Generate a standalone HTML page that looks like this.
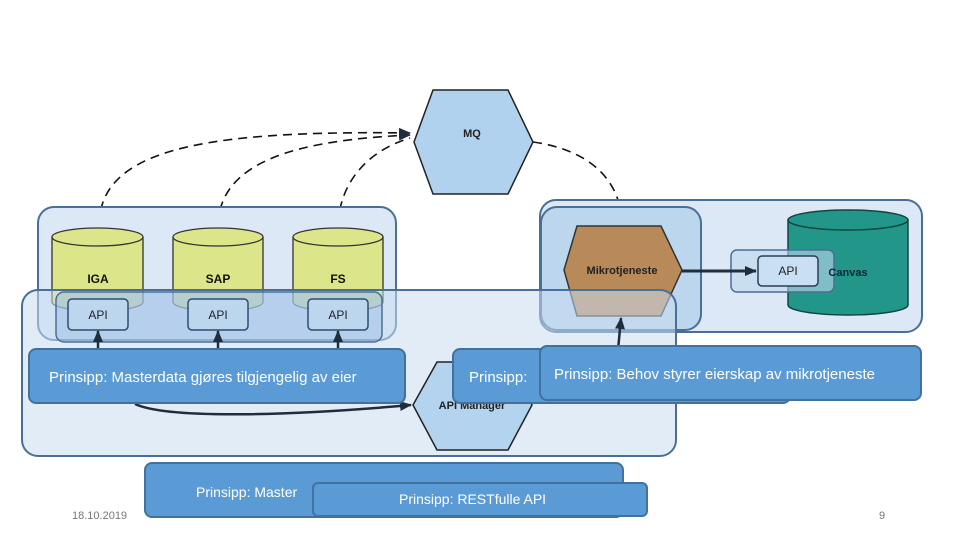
<!DOCTYPE html>
<html><head><meta charset="utf-8"><style>body{margin:0;background:#fff}svg{display:block}</style></head><body>
<svg width="960" height="540" xmlns="http://www.w3.org/2000/svg" font-family="Liberation Sans, sans-serif">
<defs><marker id="a" markerUnits="userSpaceOnUse" markerWidth="12" markerHeight="10" refX="11" refY="5" orient="auto"><path d="M0,0L12,5L0,10z" fill="#1f2d3d"/></marker></defs>
<!-- dashed -->
<g fill="none" stroke="#111" stroke-width="1.6" stroke-dasharray="9,6">
<path d="M99,225 C100,150 200,130 410,133" marker-end="url(#a)"/>
<path d="M218,225 C220,160 300,140 410,135" marker-end="url(#a)"/>
<path d="M338,225 C340,180 370,150 410,138"/>
<path d="M533,142 C590,150 620,180 622,222" marker-end="url(#a)"/>
</g>
<polygon points="414,142 433,90 508,90 533,142 508,194 433,194" fill="#b0d2ee" stroke="#222" stroke-width="1.5"/>
<text x="472" y="137" font-size="11" font-weight="bold" text-anchor="middle" fill="#222">MQ</text>
<!-- left box -->
<rect x="38" y="207" width="358" height="133" rx="16" fill="#dce8f5" stroke="#4a6f96" stroke-width="2"/>
<g stroke="#333" stroke-width="1.3" fill="#dde58a">
<path d="M52,237 v65 a45.5,9 0 0 0 91,0 v-65"/><ellipse cx="97.5" cy="237" rx="45.5" ry="9"/>
<path d="M173,237 v65 a45,9 0 0 0 90,0 v-65"/><ellipse cx="218" cy="237" rx="45" ry="9"/>
<path d="M293,237 v65 a45,9 0 0 0 90,0 v-65"/><ellipse cx="338" cy="237" rx="45" ry="9"/>
</g>
<g font-size="12" font-weight="bold" text-anchor="middle" fill="#111"><text x="98" y="283">IGA</text><text x="218" y="283">SAP</text><text x="338" y="283">FS</text></g>
<!-- right box -->
<rect x="540" y="200" width="382" height="132" rx="16" fill="#dce8f5" stroke="#4a6f96" stroke-width="2"/>
<rect x="541" y="207" width="160" height="123" rx="16" fill="#bcd6ee" stroke="#4a6f96" stroke-width="2"/>
<path d="M788,220 v85 a60,10 0 0 0 120,0 v-85" fill="#23968a" stroke="#12443f" stroke-width="1.5"/><ellipse cx="848" cy="220" rx="60" ry="10" fill="#23968a" stroke="#12443f" stroke-width="1.5"/>
<rect x="731" y="250" width="103" height="42" rx="6" fill="rgba(190,215,240,0.6)" stroke="#4a6f96" stroke-width="1.5"/>
<rect x="758" y="256" width="60" height="30" rx="4" fill="#c9dff3" stroke="#2d3e50" stroke-width="1.5"/>
<text x="788" y="275" font-size="12" text-anchor="middle" fill="#222">API</text>
<text x="848" y="276" font-size="11" font-weight="bold" text-anchor="middle" fill="#123">Canvas</text>
<polygon points="564,270 577,226 661,226 682,270 661,316 577,316" fill="#b88a5a" stroke="#333" stroke-width="1.5"/>
<text x="622" y="274" font-size="11" font-weight="bold" text-anchor="middle" fill="#222">Mikrotjeneste</text>
<line x1="682" y1="271" x2="756" y2="271" stroke="#1f2d3d" stroke-width="3" marker-end="url(#a)"/>
<!-- big box -->
<rect x="22" y="290" width="654" height="166" rx="16" fill="rgba(200,220,240,0.55)" stroke="#4a6f96" stroke-width="2"/>
<rect x="56" y="292" width="326" height="50" rx="8" fill="rgba(140,180,225,0.4)" stroke="#4a6f96" stroke-width="1.5"/>
<g fill="#bcd6ee" stroke="#2d4e70" stroke-width="1.5">
<rect x="68" y="299" width="60" height="31" rx="4"/><rect x="188" y="299" width="60" height="31" rx="4"/><rect x="308" y="299" width="60" height="31" rx="4"/></g>
<g font-size="12" text-anchor="middle" fill="#223"><text x="98" y="319">API</text><text x="218" y="319">API</text><text x="338" y="319">API</text></g>
<g stroke="#1f2d3d" stroke-width="2.5"><line x1="98" y1="352" x2="98" y2="331" marker-end="url(#a)"/><line x1="218" y1="352" x2="218" y2="331" marker-end="url(#a)"/><line x1="338" y1="352" x2="338" y2="331" marker-end="url(#a)"/><line x1="618" y1="350" x2="621" y2="318" marker-end="url(#a)"/></g>
<polygon points="413,405 437,362 508,362 532,405 508,450 437,450" fill="#b3d3ee" stroke="#222" stroke-width="1.5"/>
<text x="472" y="409" font-size="11" font-weight="bold" text-anchor="middle" fill="#222">API Manager</text>
<path d="M135,404 C170,420 300,415 411,405" fill="none" stroke="#1f2d3d" stroke-width="2.5" marker-end="url(#a)"/>
<!-- labels -->
<g fill="#5b9bd5" stroke="#41719c" stroke-width="2">
<rect x="29" y="349" width="376" height="54" rx="7"/>
<rect x="453" y="349" width="337" height="54" rx="7"/>
<rect x="540" y="346" width="381" height="54" rx="7"/>
<rect x="145" y="463" width="478" height="54" rx="7"/>
<rect x="313" y="483" width="334" height="33" rx="5"/>
</g>
<g fill="#fff" font-size="15">
<text x="49" y="382">Prinsipp: Masterdata gjøres tilgjengelig av eier</text>
<text x="469" y="382">Prinsipp:</text>
<text x="554" y="379">Prinsipp: Behov styrer eierskap av mikrotjeneste</text>
<text x="196" y="497" font-size="14">Prinsipp: Master</text>
<text x="399" y="504" font-size="14">Prinsipp: RESTfulle API</text>
</g>
<text x="72" y="519" font-size="11" fill="#777">18.10.2019</text>
<text x="879" y="519" font-size="11" fill="#777">9</text>
</svg>
</body></html>
